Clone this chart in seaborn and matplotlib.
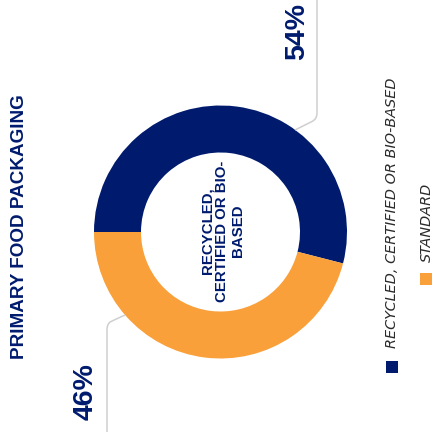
import matplotlib
matplotlib.use("Agg")
import matplotlib.pyplot as plt
import seaborn as sns
from matplotlib.patches import Rectangle
from matplotlib.path import Path
from matplotlib.patches import PathPatch

# ---- data ----
categories = ["RECYCLED, CERTIFIED OR BIO-BASED", "STANDARD"]
values = [54, 46]
value_labels = ["54%", "46%"]
title = "PRIMARY FOOD PACKAGING"
center_text = "RECYCLED,\nCERTIFIED OR BIO-\nBASED"

NAVY = "#001b6e"
ORANGE = "#f9a03a"
GRAY = "#cfcfcf"
LEGEND_TXT = "#2a2a2a"

sns.set_theme(style="white")
palette = sns.color_palette([NAVY, ORANGE])

fig = plt.figure(figsize=(4.35, 4.32), dpi=100)
ax = fig.add_axes([0, 0, 1, 1])

cx, cy, R, W = 220.5, 200.0, 126.5, 47.0
ax.pie(values, colors=palette, startangle=180, counterclock=False,
       radius=R, center=(cx, cy),
       wedgeprops=dict(width=W, linewidth=0))

ax.set_xlim(0, 435)
ax.set_ylim(0, 432)
ax.set_aspect("auto")
ax.axis("off")

# leader lines (rounded corner)
def leader(p0, p1, ctrl, p2, p3):
    verts = [p0, p1, ctrl, p2, p3]
    codes = [Path.MOVETO, Path.LINETO, Path.CURVE3, Path.CURVE3, Path.LINETO]
    ax.add_patch(PathPatch(Path(verts, codes), facecolor="none",
                           edgecolor=GRAY, lw=1.1))

leader((295, 302), (312, 310.5), (317, 313), (317, 319), (317, 432))
leader((125, 117), (111, 110.5), (107, 108.5), (107, 102), (107, 0))

# value labels
label_pos = [(297.5, 400), (86, 40)]
for (x, y), t in zip(label_pos, value_labels):
    ax.text(x, y, t, rotation=90, ha="center", va="center",
            fontsize=20.5, fontweight="bold", color=NAVY,
            family="Liberation Sans")

# title
ax.text(19.5, 205.5, title, rotation=90, ha="center", va="center",
        fontsize=13.6, fontweight="bold", color=NAVY, family="Liberation Sans")

# center text
ax.text(222.5, 201, center_text, rotation=90, ha="center", va="center",
        multialignment="center", fontsize=10.8, fontweight="bold",
        color=NAVY, family="Liberation Sans", linespacing=1.12)

# legend (rotated)
sq = [(386, 59), (420, 147)]
txt = [(392.5, 84), (427, 170)]
for (sx, sy), (tx, ty), c, lab in zip(sq, txt, palette, categories):
    ax.add_patch(Rectangle((sx, sy), 12, 12, facecolor=c, edgecolor="none"))
    ax.text(tx, ty, lab, rotation=90, ha="center", va="bottom",
            fontsize=10.4, style="italic", color=LEGEND_TXT,
            family="DejaVu Sans")

fig.savefig("out.png", dpi=100)
